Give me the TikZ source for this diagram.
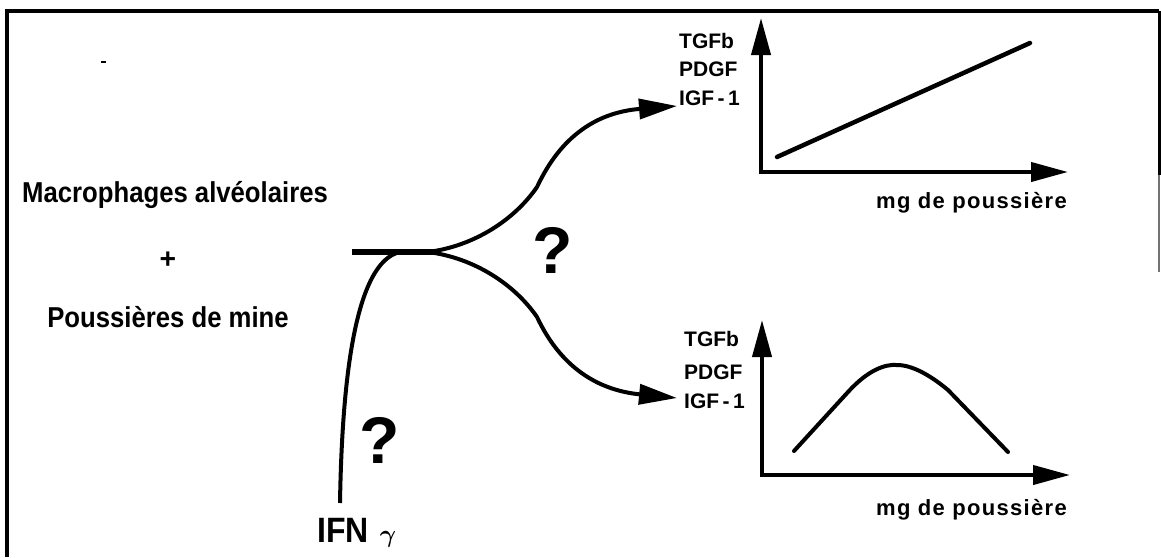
\documentclass[tikz,border=0pt]{standalone}
\usepackage{fontspec}
\setmainfont{Liberation Sans}
\newfontfamily\spacedfont[LetterSpace=6]{Liberation Sans}
\usetikzlibrary{arrows.meta}
\begin{document}
\begin{tikzpicture}[x=1pt,y=-1pt,
  big/.style={font=\fontsize{25.7}{30}\selectfont\bfseries, inner sep=0pt},
  lab/.style={font=\fontsize{21}{24}\selectfont\bfseries, inner sep=0pt, anchor=base west},
  xlab/.style={font=\fontsize{22}{26}\selectfont\spacedfont\bfseries, inner sep=0pt, anchor=base east},
  qm/.style={font=\fontsize{66}{72}\selectfont\bfseries, inner sep=0pt},
  branch/.style={line width=4pt, -{Triangle[length=38pt,width=20pt]}},
  axis/.style={line width=4pt, {Triangle[length=37pt,width=19pt]}-{Triangle[length=37pt,width=19pt]}},
  curve/.style={line width=4.5pt, line cap=round, line join=round},
  frame/.style={line width=4.5pt}]
\useasboundingbox (0,0) rectangle (1161,557);
% frame
\draw[frame] (7,557) -- (7,11) -- (1159,11);
\draw[line width=3pt] (1159,11) -- (1159,175);
\draw[line width=1.5pt, black!55] (1159,175) -- (1159,272);
\draw[line width=1.5pt] (101,62) -- (106,62);
% left texts
\node[big, anchor=base west] (mac) at (22,202) {\scalebox{1}[1.12]{Macrophages alvéolaires}};
\node[big] (plus) at (168,260) {\scalebox{1.1}{+}};
\node[big, anchor=base] (pous) at (168,327) {\scalebox{1}[1.12]{Poussières de mine}};
\node[font=\fontsize{32}{36}\selectfont\bfseries, anchor=base west, inner sep=0pt] (ifn) at (317,542) {\scalebox{1}[1.1]{IFN}\hspace{0.35em}{\fontsize{32}{36}\selectfont\boldmath$\gamma$}};
\node[qm] (q1) at (553,250) {?};
\node[qm] (q2) at (380,440) {?};
% junction
\coordinate (L) at (352,252);
\coordinate (J) at (437,252);
\coordinate (ifnTop) at (340,503);
\coordinate (merge) at (400,252);
\coordinate (tipA) at (677,106);
\coordinate (tipB) at (677,398);
\draw[line width=5.5pt] (L) -- (J);
\draw[line width=4pt] (ifnTop) .. controls (342,380) and (355,262) .. (merge);
\draw[branch] (428,252) .. controls (475,246) and (515,219) .. (537,187) .. controls (548,164) and (575,114) .. (tipA);
\draw[branch] (428,252) .. controls (475,258) and (515,285) .. (537,317) .. controls (548,340) and (575,388) .. (tipB);
% upper graph
\coordinate (oa) at (761,172);
\coordinate (ya) at (761,18);
\coordinate (xa) at (1068,172);
\draw[axis] (ya) -- (oa) -- (xa);
\node[lab] (tgfa) at (679,48) {TGFb};
\node[lab] (pdgfa) at (679,76) {PDGF};
\node[lab] (igfa) at (679,105) {IGF\,-\,1};
\node[xlab] (mga) at (1067,208) {mg de poussière};
\draw[curve] (777,157) -- (1030,43);
% lower graph
\coordinate (ob) at (762,475);
\coordinate (yb) at (762,320);
\coordinate (xb) at (1070,475);
\draw[axis] (yb) -- (ob) -- (xb);
\node[lab] (tgfb) at (684,346) {TGFb};
\node[lab] (pdgfb) at (684,379) {PDGF};
\node[lab] (igfb) at (684,408) {IGF\,-\,1};
\node[xlab] (mgb) at (1067,515) {mg de poussière};
\draw[curve, line width=4pt] (794,451) -- (848,392) .. controls (868,370) and (885,364) .. (897,365) .. controls (912,365) and (930,375) .. (948,390) -- (1008,452);
\end{tikzpicture}
\end{document}
